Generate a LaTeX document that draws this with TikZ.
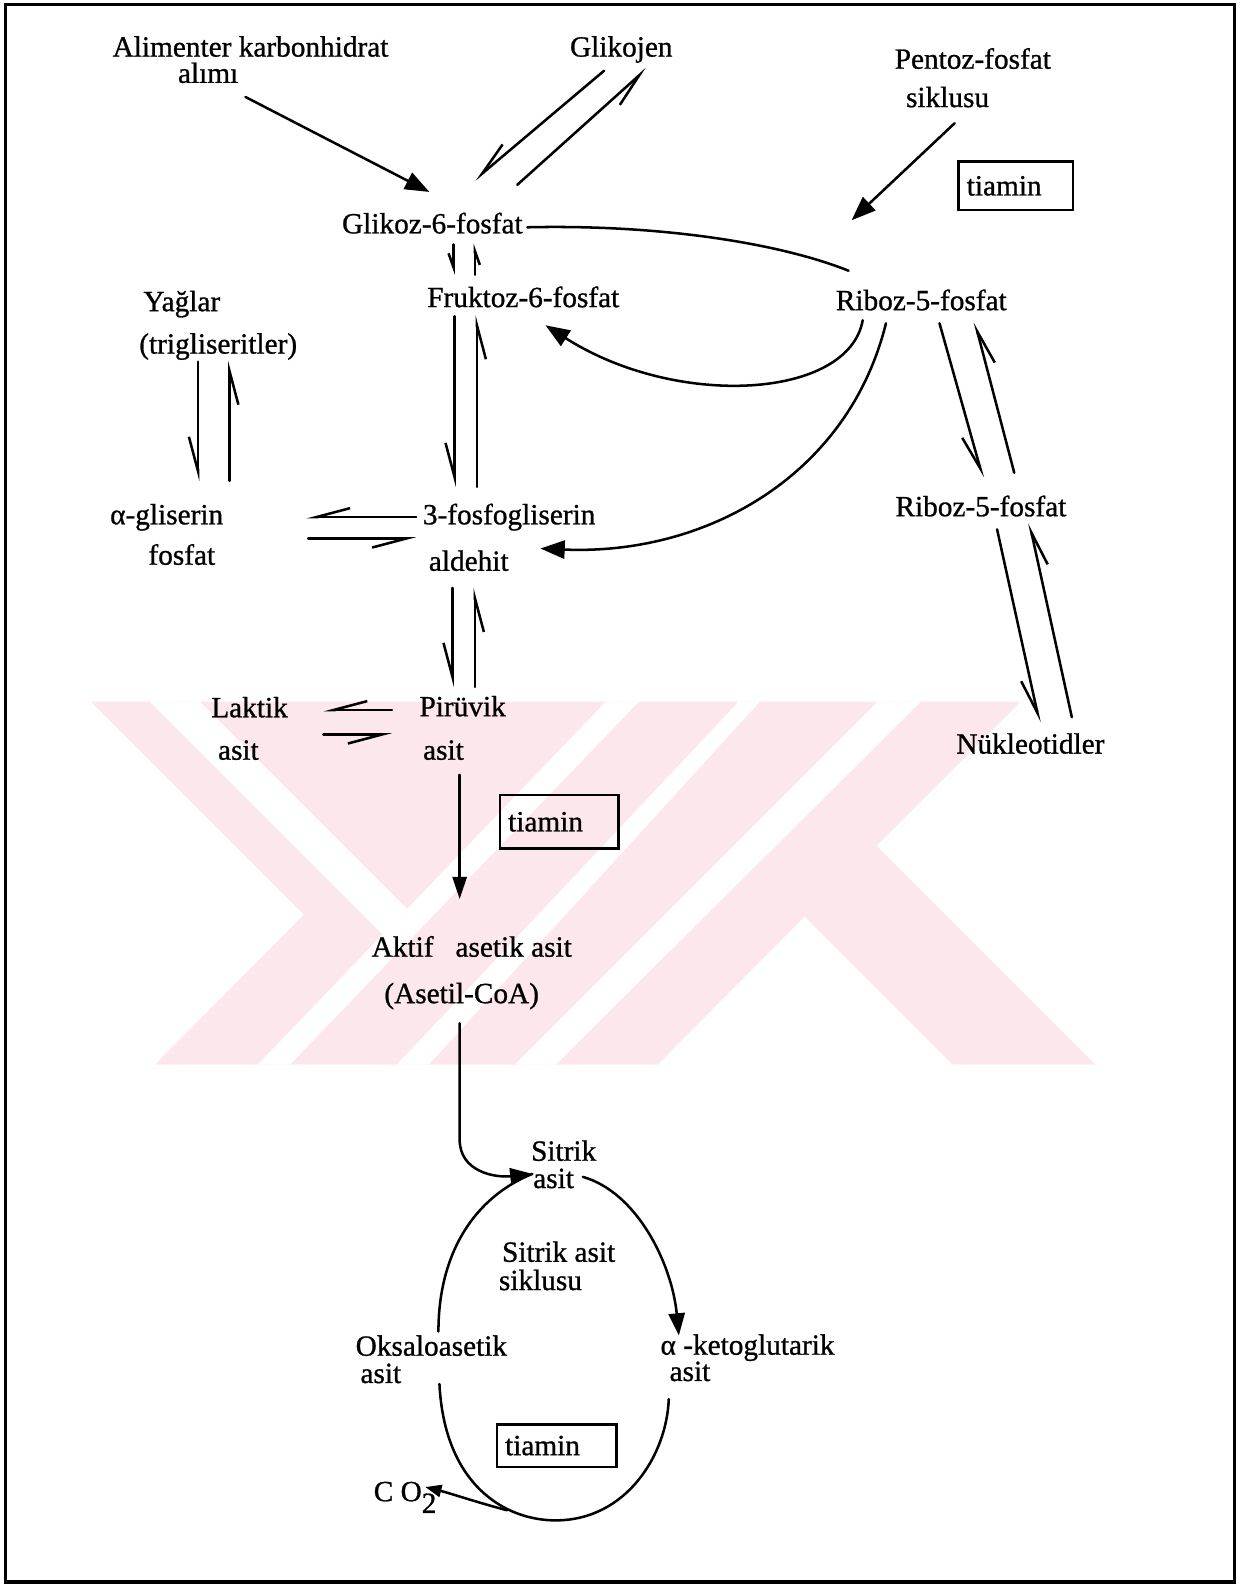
\documentclass[tikz,border=0pt]{standalone}
\usepackage{fontspec}
\setmainfont{Liberation Serif}[FakeBold=0.9]
\usetikzlibrary{arrows.meta}
\definecolor{wmpink}{RGB}{252,232,236}
\begin{document}
\begin{tikzpicture}[x=0.5pt,y=-0.5pt,
  lbl/.style={inner sep=0pt, anchor=base, font=\fontsize{14.5}{17}\selectfont},
  ln/.style={line width=1.25pt, line cap=round},
  bigarr/.style={ln, -{Triangle[length=12pt,width=9pt]}},
  eqarr/.style={ln, -{Straight Barb[harpoon,swap,length=17pt,width=9pt]}},
  smallarr/.style={ln, -{Straight Barb[harpoon,swap,length=7pt,width=5pt]}},
  tbox/.style={draw, line width=1.3pt, inner xsep=4pt, inner ysep=0pt, align=left,
     font=\fontsize{14.5}{17}\selectfont},
  wm/.style={fill=wmpink, draw=none},
  wmcut/.style={fill=white, draw=none}
]
\useasboundingbox (0,0) rectangle (1229,1568);

% watermark (background), drawn in reference pixel units
\begin{scope}[scale=0.9895]
\path[wm] (91,702) -- (1021,702) -- (877,846) -- (1096,1065) -- (953,1065)
  -- (805,917) -- (658,1065) -- (155,1065) -- (304,915) -- cycle;
\path[wmcut] (150,702) -- (200,702) -- (407,909) -- (383,935) -- cycle;
\path[wmcut] (606,702) -- (639,702) -- (290,1065) -- (258,1065) -- cycle;
\path[wmcut] (739,702) -- (760,702) -- (429,1065) -- (397,1065) -- cycle;
\path[wmcut] (878,702) -- (921,702) -- (556,1065) -- (515,1065) -- cycle;
\end{scope}

\draw[line width=1.5pt] (5,4) rectangle (1222,1566);

% labels
\node[lbl] (alim1) at (248,56) {Alimenter karbonhidrat};
\node[lbl] (alim2) at (206,82) {alımı};
\node[lbl] (glik) at (615,56) {Glikojen};
\node[lbl] (pent1) at (963,68) {Pentoz-fosfat};
\node[lbl] (pent2) at (938,106) {siklusu};
\node[tbox, text width=48.5pt, minimum height=24pt] (t1) at (1005.5,184) {tiamin};
\node[lbl] (g6p) at (428,231) {Glikoz-6-fosfat};
\node[lbl] (f6p) at (518,304) {Fruktoz-6-fosfat};
\node[lbl] (r5p) at (912,307) {Riboz-5-fosfat};
\node[lbl] (yag) at (180,308) {Yağlar};
\node[lbl] (trig) at (216,350) {(trigliseritler)};
\node[lbl] (agli1) at (165,519) {α-gliserin};
\node[lbl] (agli2) at (180,559) {fosfat};
\node[lbl] (fg1) at (504,519) {3-fosfogliserin};
\node[lbl] (fg2) at (464,565) {aldehit};
\node[lbl] (r5pb) at (971,511) {Riboz-5-fosfat};
\node[lbl] (nuk) at (1020,746) {Nükleotidler};
\node[lbl] (lak1) at (247,710) {Laktik};
\node[lbl] (lak2) at (236,752) {asit};
\node[lbl] (pir1) at (458,709) {Pirüvik};
\node[lbl] (pir2) at (439,752) {asit};
\node[tbox, text width=50.5pt, minimum height=26.5pt] (t2) at (553.5,813.5) {tiamin};
\node[lbl] (aktif) at (467,947) {Aktif\ \ \ asetik asit};
\node[lbl] (asetil) at (457,993) {(Asetil-CoA)};
\node[lbl] (sit1) at (558,1149) {Sitrik};
\node[lbl] (sit2) at (548,1176) {asit};
\node[lbl] (cyc1) at (553,1249) {Sitrik asit};
\node[lbl] (cyc2) at (535,1277) {siklusu};
\node[lbl] (oks1) at (427,1342) {Oksaloasetik};
\node[lbl] (oks2) at (377,1369) {asit};
\node[lbl] (akg1) at (740,1341) {α -ketoglutarik};
\node[lbl] (akg2) at (683,1367) {asit};
\node[tbox, text width=51pt, minimum height=21pt] (t3) at (551,1431) {tiamin};
\node[lbl] (co2) at (401,1486) {C O\raisebox{-0.4em}{2}};

% connector end points
\coordinate (alimS) at (243,96);  \coordinate (g6pA) at (425,190);
\coordinate (glkA) at (598,70);   \coordinate (g6pB) at (470,178);
\coordinate (g6pC) at (512,183);  \coordinate (glkB) at (640,68);
\coordinate (pentS) at (945,122); \coordinate (r5pA) at (843,218);
\coordinate (g6pE) at (522,225);  \coordinate (r5pE) at (840,268);
\coordinate (g6pD1) at (449,242); \coordinate (f6pU1) at (449,272);
\coordinate (f6pU2) at (470,272); \coordinate (g6pD2) at (470,241);
\coordinate (yagD1) at (196,358); \coordinate (agliU1) at (196,476);
\coordinate (agliU2) at (227,476); \coordinate (yagD2) at (227,357);
\coordinate (f6pD1) at (450,313); \coordinate (fgU1) at (450,482);
\coordinate (fgU2) at (472,482);  \coordinate (f6pD2) at (472,312);
\coordinate (r5pL1) at (854,317); \coordinate (f6pR) at (540,322);
\coordinate (r5pL2) at (877,320); \coordinate (fgR) at (535,543);
\coordinate (r5pD1) at (930,320); \coordinate (r5bU1) at (973,473);
\coordinate (r5bU2) at (1004,468); \coordinate (r5pD2) at (965,319);
\coordinate (r5bD1) at (987,524); \coordinate (nukU1) at (1029,715);
\coordinate (nukU2) at (1061,710); \coordinate (r5bD2) at (1019,518);
\coordinate (fgL1) at (412,512);  \coordinate (agliR1) at (303,512);
\coordinate (agliR2) at (305,533); \coordinate (fgL2) at (412,533);
\coordinate (fgD1) at (448,582);  \coordinate (pirU1) at (448,680);
\coordinate (pirU2) at (470,680); \coordinate (fgD2) at (470,582);
\coordinate (pirL1) at (388,703); \coordinate (lakR1) at (320,703);
\coordinate (lakR2) at (320,727); \coordinate (pirL2) at (388,727);
\coordinate (pirD) at (455,767);  \coordinate (aktU) at (455,890);
\coordinate (aceD) at (455,1013); \coordinate (sitL) at (527,1162);
\coordinate (oksT) at (434,1318); \coordinate (sitR) at (577,1165);
\coordinate (akgT) at (672,1322); \coordinate (akgB) at (662,1385);
\coordinate (oksB) at (435,1370); \coordinate (cycB) at (502,1495);
\coordinate (co2R) at (421,1472);

% connectors
\draw[bigarr] (alimS) -- (g6pA);
\draw[eqarr] (glkA) -- (g6pB);
\draw[eqarr] (g6pC) -- (glkB);
\draw[bigarr] (pentS) -- (r5pA);
\draw[ln] (g6pE) .. controls (650,222) and (770,240) .. (r5pE);
\draw[smallarr] (g6pD1) -- (f6pU1);
\draw[smallarr] (f6pU2) -- (g6pD2);
\draw[eqarr] (yagD1) -- (agliU1);
\draw[eqarr] (agliU2) -- (yagD2);
\draw[eqarr] (f6pD1) -- (fgU1);
\draw[eqarr] (fgU2) -- (f6pD2);
\draw[bigarr] (r5pL1) .. controls (840,395) and (670,405) .. (f6pR);
\draw[bigarr] (r5pL2) .. controls (840,470) and (700,550) .. (fgR);
\draw[eqarr] (r5pD1) -- (r5bU1);
\draw[eqarr] (r5bU2) -- (r5pD2);
\draw[eqarr] (r5bD1) -- (nukU1);
\draw[eqarr] (nukU2) -- (r5bD2);
\draw[eqarr] (fgL1) -- (agliR1);
\draw[eqarr] (agliR2) -- (fgL2);
\draw[eqarr] (fgD1) -- (pirU1);
\draw[eqarr] (pirU2) -- (fgD2);
\draw[eqarr] (pirL1) -- (lakR1);
\draw[eqarr] (lakR2) -- (pirL2);
\draw[ln, -{Triangle[length=11pt,width=7pt]}] (pirD) -- (aktU);
\draw[ln, -{Triangle[length=11pt,width=8pt]}] (aceD) -- (455,1128) .. controls (455,1160) and (490,1166) .. (sitL);
\draw[ln] (oksT) .. controls (434,1240) and (470,1185) .. (sitL);
\draw[ln, -{Triangle[length=11pt,width=8pt]}] (sitR) .. controls (630,1180) and (665,1250) .. (akgT);
\draw[ln] (oksB) .. controls (440,1470) and (500,1505) .. (550,1505) .. controls (620,1505) and (660,1440) .. (akgB);
\draw[ln, -{Triangle[length=8pt,width=6pt]}] (cycB) .. controls (475,1488) and (445,1478) .. (co2R);
\end{tikzpicture}
\end{document}
